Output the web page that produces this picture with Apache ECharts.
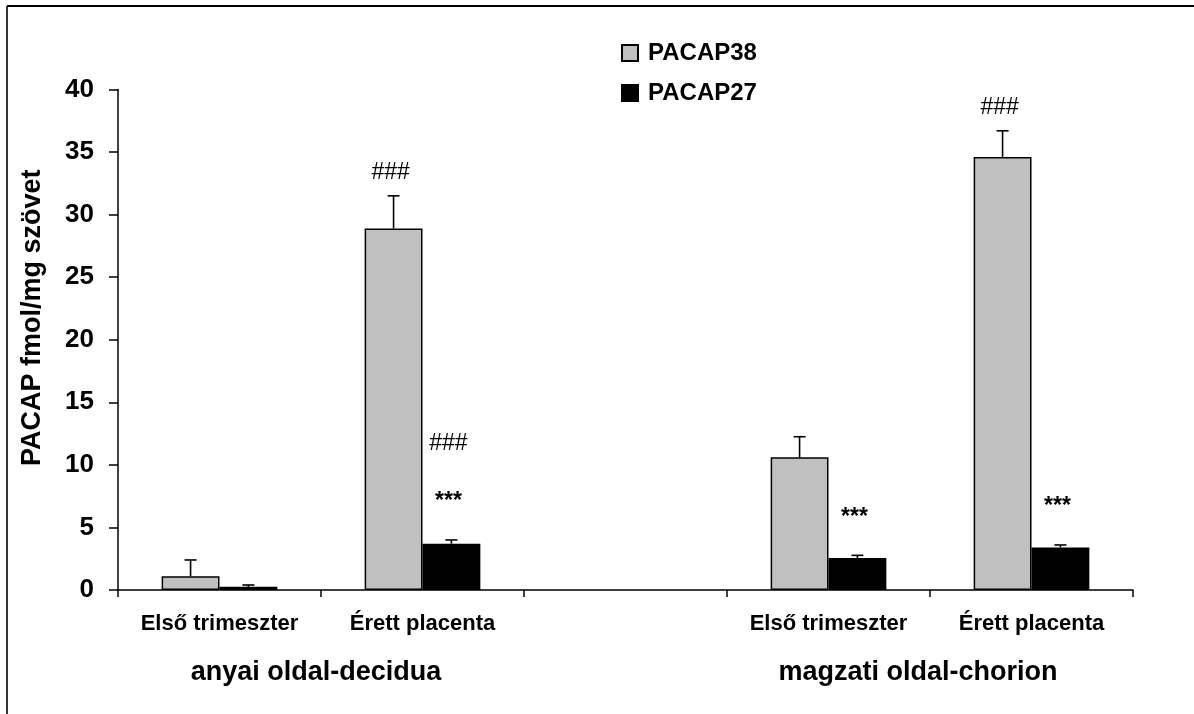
<!DOCTYPE html>
<html>
<head>
<meta charset="utf-8">
<script src="https://cdn.jsdelivr.net/npm/echarts@6/dist/echarts.min.js"></script>
<style>
  html, body { margin: 0; padding: 0; background: #fff; }
  #chart { width: 1194px; height: 714px; }
</style>
</head>
<body>
<div id="chart"></div>
<script>
// Tissue PACAP content (fmol/mg), mean and SEM per group
const categories = ['Első trimeszter', 'Érett placenta', '', 'Első trimeszter', 'Érett placenta'];
const pacap38 = [1.1, 28.9, null, 10.6, 34.6];
const pacap38Sem = [1.3, 2.6, null, 1.65, 2.1];
const pacap27 = [0.25, 3.7, null, 2.55, 3.4];
const pacap27Sem = [0.15, 0.3, null, 0.22, 0.2];
// significance marks drawn above each bar (lowest first)
const marks38 = [[], ['###'], [], [], ['###']];
const marks27 = [[], ['***', '###'], [], ['***'], ['***']];
const groupLabels = ['anyai oldal-decidua', 'magzati oldal-chorion'];
const groupSpans = [[0, 1], [3, 4]];
const yTicks = { min: 0, max: 40, interval: 5 };

const FONT = '"Liberation Sans", Arial, sans-serif';
const GAP_RATIO = 0.43;

const errData = [];
[[pacap38, pacap38Sem, marks38], [pacap27, pacap27Sem, marks27]].forEach(([vals, sems, marks], side) => {
  vals.forEach((v, i) => {
    if (v == null) return;
    errData.push({ value: [i, v, sems[i], side], marks: marks[i] });
  });
});

const chart = echarts.init(document.getElementById('chart'), null, { renderer: 'canvas' });

const option = {
  backgroundColor: '#ffffff',
  animation: false,
  grid: { left: 118, right: 61, top: 89.5, bottom: 124, containLabel: false },
  legend: {
    data: ['PACAP38', 'PACAP27'],
    orient: 'vertical',
    left: 616,
    top: 36,
    itemWidth: 16,
    itemHeight: 16,
    itemGap: 16,
    icon: 'rect',
    textStyle: { fontFamily: FONT, fontWeight: 'bold', fontSize: 24, color: '#000', padding: [0, 0, 0, 5] }
  },
  xAxis: {
    type: 'category',
    data: categories,
    axisLine: { lineStyle: { color: '#000', width: 1.5 } },
    axisTick: { show: true, length: 7, lineStyle: { color: '#000', width: 1.5 } },
    axisLabel: { interval: 0, margin: 23, color: '#000', fontFamily: FONT, fontWeight: 'bold', fontSize: 22 }
  },
  yAxis: {
    type: 'value',
    min: yTicks.min,
    max: yTicks.max,
    interval: yTicks.interval,
    name: 'PACAP fmol/mg szövet',
    nameLocation: 'middle',
    nameGap: 72,
    nameTextStyle: { fontFamily: FONT, fontWeight: 'bold', fontSize: 27, color: '#000', padding: [0, 0, 0, 44] },
    splitLine: { show: false },
    axisLine: { show: true, lineStyle: { color: '#000', width: 1.5 } },
    axisTick: { show: true, length: 9, lineStyle: { color: '#000', width: 1.5 } },
    axisLabel: { margin: 24, color: '#000', fontFamily: FONT, fontWeight: 'bold', fontSize: 26 }
  },
  series: [
    {
      name: 'PACAP38',
      type: 'bar',
      data: pacap38,
      barGap: '0%',
      barCategoryGap: (GAP_RATIO * 100) + '%',
      itemStyle: { color: '#c0c0c0', borderColor: '#000', borderWidth: 1.5 }
    },
    {
      name: 'PACAP27',
      type: 'bar',
      data: pacap27,
      barGap: '0%',
      barCategoryGap: (GAP_RATIO * 100) + '%',
      itemStyle: { color: '#000', borderColor: '#000', borderWidth: 1.5 }
    },
    {
      name: 'sem',
      type: 'custom',
      z: 5,
      data: errData,
      renderItem: function (params, api) {
        const idx = api.value(0);
        const mean = api.value(1);
        const sem = api.value(2);
        const side = api.value(3);
        const band = api.size([1, 0])[0];
        const barW = band * (1 - GAP_RATIO) / 2;
        const base = api.coord([idx, mean]);
        const x = base[0] + (side === 0 ? -barW / 2 : barW / 2);
        const top = api.coord([idx, mean + sem])[1];
        const cap = 6;
        const children = [
          { type: 'line', shape: { x1: x, y1: base[1], x2: x, y2: top }, style: { stroke: '#000', lineWidth: 1.6 } },
          { type: 'line', shape: { x1: x - cap, y1: top, x2: x + cap, y2: top }, style: { stroke: '#000', lineWidth: 1.6 } }
        ];
        const marks = errData[params.dataIndex].marks || [];
        let y = top;
        marks.forEach((m, k) => {
          const isHash = m.indexOf('#') >= 0;
          y -= (k === 0) ? (isHash ? 23 : 38) : 58;
          children.push({
            type: 'text',
            style: {
              text: m, x: x - 3, y: y,
              align: 'center', verticalAlign: 'middle',
              fill: '#000',
              fontFamily: FONT,
              fontSize: 23,
              fontWeight: isHash ? 'normal' : 'bold'
            }
          });
        });
        return { type: 'group', children: children };
      }
    }
  ]
};

chart.setOption(option);

// frame lines and group captions under the category labels
function drawExtras() {
  const graphics = [
    { type: 'line', shape: { x1: 7, y1: 6, x2: 1194, y2: 6 }, style: { stroke: '#000', lineWidth: 2 } },
    { type: 'line', shape: { x1: 7, y1: 6, x2: 7, y2: 714 }, style: { stroke: '#000', lineWidth: 1.6 } }
  ];
  const nudge = [-5, -12];
  groupSpans.forEach((span, g) => {
    const a = chart.convertToPixel({ xAxisIndex: 0 }, span[0]);
    const b = chart.convertToPixel({ xAxisIndex: 0 }, span[1]);
    graphics.push({
      type: 'text',
      x: (a + b) / 2 + nudge[g],
      y: 673,
      style: {
        text: groupLabels[g],
        align: 'center', verticalAlign: 'middle',
        fill: '#000', fontFamily: FONT, fontWeight: 'bold', fontSize: 27
      }
    });
  });
  chart.setOption({ graphic: graphics });
}
drawExtras();
</script>
</body>
</html>
